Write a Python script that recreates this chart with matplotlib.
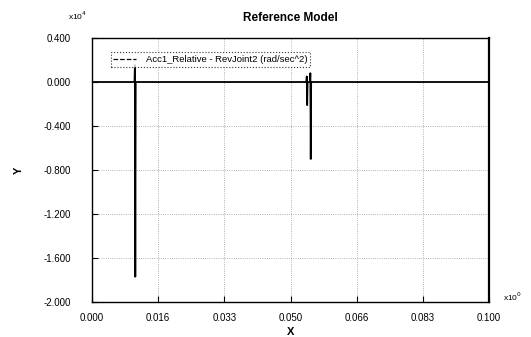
import matplotlib
matplotlib.use("Agg")
import matplotlib.pyplot as plt
from matplotlib.lines import Line2D

plt.rcParams["font.family"] = ["Liberation Sans", "DejaVu Sans"]

# time (s) and angular acceleration (x10^4 rad/sec^2)
time = [0.0, 0.0107, 0.0108, 0.0109, 0.0110, 0.0540, 0.0541, 0.0542, 0.0543,
        0.0549, 0.0550, 0.0551, 0.0552, 0.1000]
acc = [0.0, 0.0, 0.155, -1.77, 0.0, 0.0, 0.05, -0.21, 0.0,
       0.0, 0.08, -0.70, 0.0, 0.0]

x_ticks = [0.0, 0.1 / 6, 0.2 / 6, 0.3 / 6, 0.4 / 6, 0.5 / 6, 0.1]
x_labels = ["0.000", "0.016", "0.033", "0.050", "0.066", "0.083", "0.100"]
y_ticks = [0.4, 0.0, -0.4, -0.8, -1.2, -1.6, -2.0]
y_labels = ["0.400", "0.000", "-0.400", "-0.800", "-1.200", "-1.600", "-2.000"]

fig = plt.figure(figsize=(5.31, 3.37), dpi=100)
ax = fig.add_axes([0.1733, 0.1039, 0.7476, 0.7833])

ax.plot(time, acc, color="black", linewidth=1.3)

ax.set_xlim(0, 0.1)
ax.set_ylim(-2.0, 0.4)
ax.set_xticks(x_ticks)
ax.set_xticklabels(x_labels)
ax.set_yticks(y_ticks)
ax.set_yticklabels(y_labels)
ax.tick_params(direction="in", length=4, width=0.8, labelsize=7)
ax.tick_params(axis="y", pad=15)
ax.tick_params(axis="x", pad=8)
ax.grid(True, linestyle=":", color="#999999", linewidth=0.6)

for side in ("left", "bottom", "top"):
    ax.spines[side].set_linewidth(1.0)
ax.spines["right"].set_linewidth(1.6)

ax.set_title("Reference Model", fontsize=8.5, fontweight="bold", pad=12)
ax.set_xlabel("X", fontsize=8, fontweight="bold", labelpad=3)
ax.set_ylabel("Y", fontsize=8, fontweight="bold", labelpad=14, rotation=90)

fig.text(0.128, 0.952, "x10$^4$", fontsize=6, ha="left", va="center")
fig.text(0.948, 0.118, "x10$^0$", fontsize=6, ha="left", va="center")

handle = Line2D([], [], color="black", linewidth=0.9, linestyle="--")
leg = ax.legend([handle], ["Acc1_Relative - RevJoint2 (rad/sec^2)"],
                loc="upper left", bbox_to_anchor=(0.035, 0.965),
                fontsize=6.8, frameon=True, fancybox=False,
                handlelength=2.4, borderpad=0.3, handletextpad=1.0)
leg.get_frame().set_edgecolor("black")
leg.get_frame().set_linestyle(":")
leg.get_frame().set_linewidth(0.8)

fig.savefig("out.png", dpi=100)
